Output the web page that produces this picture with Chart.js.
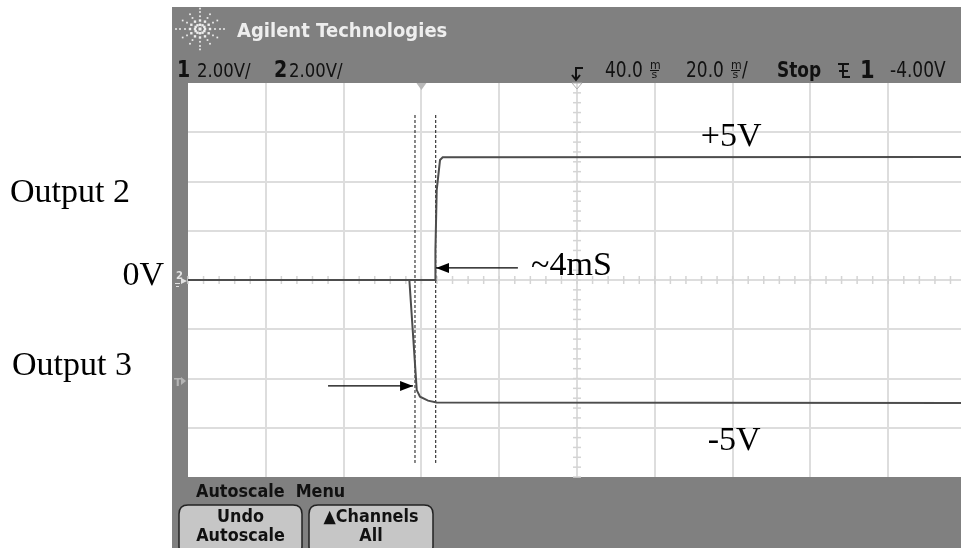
<!DOCTYPE html>
<html>
<head>
<meta charset="utf-8">
<script src="https://cdn.jsdelivr.net/npm/chart.js@4"></script>
<style>
  html, body { margin: 0; padding: 0; background: #fff; }
  #wrap { position: relative; width: 961px; height: 548px; }
</style>
</head>
<body>
<div id="wrap"><canvas id="scope" width="961" height="548"></canvas></div>
<script>
// Scope settings: 2 V/div, 20 ms/div, delay 40 ms (time in ms, volts in V)
const timeRange = [-60, 138.7];
const voltRange = [-8, 8];
const timeGrid = [-40, -20, 0, 20, 40, 60, 80, 100, 120];
const voltGrid = [-6, -4, -2, 0, 2, 4, 6];

// Output 2 : 0V -> +5V
const out2Time  = [-60, 3.5, 3.6, 3.93, 4.78, 5.47, 140];
const out2Volts = [0, 0, 1.2, 3.65, 4.87, 4.98, 5.0];

// Output 3 : 0V -> -5V
const out3Time  = [-60, -3.1, -1.2, -0.36, 1.7, 3.9, 140];
const out3Volts = [0, 0, -4.47, -4.74, -4.9, -4.97, -5.0];

// dashed cursor lines
const cursorTimes = [-1.65, 3.68];
const cursorVolts = [6.7, -7.43];

// annotations (time, volts)
const arrow4ms  = { from: [24.8, 0.49], to: [3.75, 0.49] };
const arrowOut3 = { from: [-24.0, -4.3], to: [-2.15, -4.3] };
const labelTexts = ['+5V', '-5V', '~4mS'];
const labelPos   = [[79.6, 5.44], [80.4, -6.9], [28.2, 0.2]];

function zip(xs, ys) {
  return xs.map((x, i) => ({ x: x, y: ys[i] }));
}

const cursorSets = cursorTimes.map((t) => ({
  data: zip([t, t], cursorVolts),
  borderColor: '#111',
  borderWidth: 1,
  borderDash: [3, 2],
  pointRadius: 0
}));

function drawArrow(ctx, x1, y1, x2, y2) {
  ctx.strokeStyle = '#000';
  ctx.fillStyle = '#000';
  ctx.lineWidth = 1.2;
  ctx.beginPath();
  ctx.moveTo(x1, y1);
  ctx.lineTo(x2, y2);
  ctx.stroke();
  const dir = Math.sign(x2 - x1);
  ctx.beginPath();
  ctx.moveTo(x2, y2);
  ctx.lineTo(x2 - dir * 13, y2 - 5);
  ctx.lineTo(x2 - dir * 13, y2 + 5);
  ctx.closePath();
  ctx.fill();
}

function roundRect(ctx, x, y, w, h, r) {
  ctx.beginPath();
  ctx.moveTo(x + r, y);
  ctx.lineTo(x + w - r, y);
  ctx.quadraticCurveTo(x + w, y, x + w, y + r);
  ctx.lineTo(x + w, y + h - r);
  ctx.quadraticCurveTo(x + w, y + h, x + w - r, y + h);
  ctx.lineTo(x + r, y + h);
  ctx.quadraticCurveTo(x, y + h, x, y + h - r);
  ctx.lineTo(x, y + r);
  ctx.quadraticCurveTo(x, y, x + r, y);
  ctx.closePath();
}

// scope fonts are tall and narrow: stretch the text vertically
function scopeText(ctx, txt, x, y, font, sy) {
  ctx.save();
  ctx.translate(x, y);
  ctx.scale(1, sy || 1.2);
  ctx.font = font;
  ctx.fillText(txt, 0, 0);
  ctx.restore();
}

// stacked "m over s" unit used by the scope for ms
function drawMs(ctx, x, baseline) {
  scopeText(ctx, 'm', x, baseline - 8, '11px "DejaVu Sans"', 1.1);
  scopeText(ctx, 's', x + 1.5, baseline + 1, '11px "DejaVu Sans"', 1.0);
  ctx.fillRect(x, baseline - 7, 9, 1);
}

const scopeFrame = {
  id: 'scopeFrame',
  beforeDraw(chart) {
    const ctx = chart.ctx;
    const a = chart.chartArea;
    const xs = chart.scales.x, ys = chart.scales.y;
    ctx.save();
    ctx.fillStyle = '#fff';
    ctx.fillRect(0, 0, chart.width, chart.height);
    // gray scope panel
    ctx.fillStyle = '#808080';
    ctx.fillRect(172, 7, chart.width - 172, chart.height - 7);
    // screen
    ctx.fillStyle = '#fff';
    ctx.fillRect(a.left, a.top, a.right - a.left, a.bottom - a.top);

    // grid
    ctx.strokeStyle = '#dddddd';
    ctx.lineWidth = 2;
    timeGrid.forEach((t) => {
      const px = Math.round(xs.getPixelForValue(t));
      ctx.beginPath(); ctx.moveTo(px, a.top); ctx.lineTo(px, a.bottom); ctx.stroke();
    });
    voltGrid.forEach((v) => {
      const py = Math.round(ys.getPixelForValue(v));
      ctx.beginPath(); ctx.moveTo(a.left, py); ctx.lineTo(a.right, py); ctx.stroke();
    });

    // minor ticks on the centre lines (5 per division)
    const cx = Math.round(xs.getPixelForValue(40));
    const cy = Math.round(ys.getPixelForValue(0));
    ctx.lineWidth = 1.5;
    ctx.strokeStyle = '#d4d4d4';
    for (let t = -60; t <= 140; t += 4) {
      const px = xs.getPixelForValue(t);
      if (px > a.right) break;
      ctx.beginPath(); ctx.moveTo(px, cy - 4); ctx.lineTo(px, cy + 4); ctx.stroke();
    }
    for (let v = -8; v <= 8; v += 0.4) {
      const py = ys.getPixelForValue(v);
      ctx.beginPath(); ctx.moveTo(cx - 4, py); ctx.lineTo(cx + 4, py); ctx.stroke();
    }

    // top markers: time reference and delay
    const refX = xs.getPixelForValue(0);
    ctx.fillStyle = '#b8b8b8';
    ctx.beginPath();
    ctx.moveTo(refX - 5, a.top); ctx.lineTo(refX + 5, a.top); ctx.lineTo(refX, a.top + 7);
    ctx.closePath(); ctx.fill();
    ctx.strokeStyle = '#b0b0b0';
    ctx.lineWidth = 1;
    ctx.beginPath();
    ctx.moveTo(cx - 5, a.top); ctx.lineTo(cx + 5, a.top); ctx.lineTo(cx, a.top + 6); ctx.closePath();
    ctx.stroke();
    ctx.restore();
  },
  afterDatasetsDraw(chart) {
    const ctx = chart.ctx;
    const xs = chart.scales.x, ys = chart.scales.y;
    ctx.save();
    [arrow4ms, arrowOut3].forEach((ar) => {
      drawArrow(ctx,
        xs.getPixelForValue(ar.from[0]), ys.getPixelForValue(ar.from[1]),
        xs.getPixelForValue(ar.to[0]), ys.getPixelForValue(ar.to[1]));
    });
    ctx.fillStyle = '#000';
    ctx.font = '34px "Liberation Serif"';
    ctx.textBaseline = 'alphabetic';
    labelTexts.forEach((txt, i) => {
      const px = xs.getPixelForValue(labelPos[i][0]);
      const py = ys.getPixelForValue(labelPos[i][1]);
      ctx.textAlign = i < 2 ? 'center' : 'left';
      ctx.fillText(txt, px, py);
    });
    ctx.restore();
  },
  afterDraw(chart) {
    const ctx = chart.ctx;
    const ys = chart.scales.y;
    ctx.save();
    ctx.textBaseline = 'alphabetic';
    ctx.textAlign = 'left';

    // left labels
    ctx.fillStyle = '#000';
    ctx.font = '34px "Liberation Serif"';
    ctx.fillText('Output 2', 10, 202);
    ctx.fillText('Output 3', 12, 375);
    ctx.textAlign = 'right';
    ctx.fillText('0V', 164, 285);
    ctx.textAlign = 'left';

    // Agilent logo: dotted starburst
    ctx.fillStyle = '#eeeeee';
    const lx = 200, ly = 29;
    for (let k = 0; k < 12; k++) {
      const ang = k * Math.PI / 6;
      [5, 10, 15, 20, 24].forEach((r, j) => {
        if (j === 4 && k % 3 !== 0) return;
        const s = j < 2 ? 2.4 : 1.7;
        ctx.fillRect(lx + Math.cos(ang) * r - s / 2, ly + Math.sin(ang) * r * 0.85 - s / 2, s, s);
      });
    }
    ctx.fillRect(lx - 1.5, ly - 1.5, 3, 3);
    scopeText(ctx, 'Agilent Technologies', 237, 37, 'bold 18px "DejaVu Sans"', 1.1);

    // status line
    ctx.fillStyle = '#111';
    scopeText(ctx, '1', 177, 77, 'bold 19px "DejaVu Sans"');
    scopeText(ctx, '2', 274, 77, 'bold 19px "DejaVu Sans"');
    scopeText(ctx, '2.00V/', 197, 77, '16.5px "DejaVu Sans"');
    scopeText(ctx, '2.00V/', 289, 77, '16.5px "DejaVu Sans"');

    // delay icon
    ctx.strokeStyle = '#111';
    ctx.lineWidth = 2;
    ctx.beginPath();
    ctx.moveTo(583, 68); ctx.lineTo(576, 68); ctx.lineTo(576, 79); ctx.stroke();
    ctx.beginPath();
    ctx.moveTo(572, 75); ctx.lineTo(576, 80); ctx.lineTo(580, 75); ctx.stroke();

    scopeText(ctx, '40.0', 605, 77, '17px "DejaVu Sans"');
    drawMs(ctx, 650, 77);
    scopeText(ctx, '20.0', 686, 77, '17px "DejaVu Sans"');
    drawMs(ctx, 731, 77);
    scopeText(ctx, '/', 742, 77, '17px "DejaVu Sans"');
    scopeText(ctx, 'Stop', 777, 77, 'bold 17px "DejaVu Sans"');

    // trigger slope icon
    ctx.lineWidth = 2;
    ctx.beginPath();
    ctx.moveTo(838, 64); ctx.lineTo(849, 64);
    ctx.moveTo(843, 64); ctx.lineTo(843, 77); ctx.lineTo(850, 77);
    ctx.moveTo(839, 71); ctx.lineTo(848, 71);
    ctx.stroke();
    scopeText(ctx, '1', 860, 78, 'bold 21px "DejaVu Sans"');
    scopeText(ctx, '-4.00V', 890, 77, '17px "DejaVu Sans"');

    // channel markers in the left strip
    const zeroY = ys.getPixelForValue(0);
    ctx.fillStyle = '#e2e2e2';
    ctx.font = 'bold 10px "DejaVu Sans"';
    ctx.fillText('2', 176, zeroY - 1);
    ctx.beginPath();
    ctx.moveTo(181, zeroY - 2); ctx.lineTo(187, zeroY + 1); ctx.lineTo(181, zeroY + 4); ctx.closePath();
    ctx.fill();
    ctx.fillRect(175, zeroY + 3, 5, 1);
    ctx.fillRect(176, zeroY + 6, 3, 1);
    ctx.fillStyle = '#b4b4b4';
    ctx.font = 'bold 11px "DejaVu Sans"';
    ctx.fillText('T', 174, 386);
    ctx.beginPath();
    ctx.moveTo(181, 377); ctx.lineTo(186, 381); ctx.lineTo(181, 385); ctx.closePath();
    ctx.fill();

    // soft-key menu
    ctx.fillStyle = '#111';
    scopeText(ctx, 'Autoscale  Menu', 196, 497, 'bold 16px "DejaVu Sans"', 1.1);

    [[179, 123, ['Undo', 'Autoscale']], [309, 124, ['\u25B2Channels', 'All']]].forEach((b) => {
      const bx = b[0], bw = b[1];
      roundRect(ctx, bx, 505, bw, 50, 9);
      ctx.fillStyle = '#c6c6c6';
      ctx.fill();
      ctx.lineWidth = 1.5;
      ctx.strokeStyle = '#222';
      ctx.stroke();
      ctx.fillStyle = '#111';
      ctx.textAlign = 'center';
      scopeText(ctx, b[2][0], bx + bw / 2, 522, 'bold 16px "DejaVu Sans"', 1.1);
      scopeText(ctx, b[2][1], bx + bw / 2, 541, 'bold 16px "DejaVu Sans"', 1.1);
      ctx.textAlign = 'left';
    });
    ctx.restore();
  }
};

new Chart(document.getElementById('scope').getContext('2d'), {
  type: 'line',
  data: {
    datasets: [
      {
        label: 'Output 2',
        data: zip(out2Time, out2Volts),
        borderColor: '#4d4d4d',
        borderWidth: 2,
        pointRadius: 0
      },
      {
        label: 'Output 3',
        data: zip(out3Time, out3Volts),
        borderColor: '#4d4d4d',
        borderWidth: 2,
        pointRadius: 0
      }
    ].concat(cursorSets)
  },
  options: {
    responsive: false,
    animation: false,
    layout: { padding: { left: 188, top: 83, right: 0, bottom: 71 } },
    scales: {
      x: { type: 'linear', display: false, min: timeRange[0], max: timeRange[1] },
      y: { type: 'linear', display: false, min: voltRange[0], max: voltRange[1] }
    },
    elements: { line: { tension: 0 } },
    plugins: { legend: { display: false }, tooltip: { enabled: false } }
  },
  plugins: [scopeFrame]
});
</script>
</body>
</html>
